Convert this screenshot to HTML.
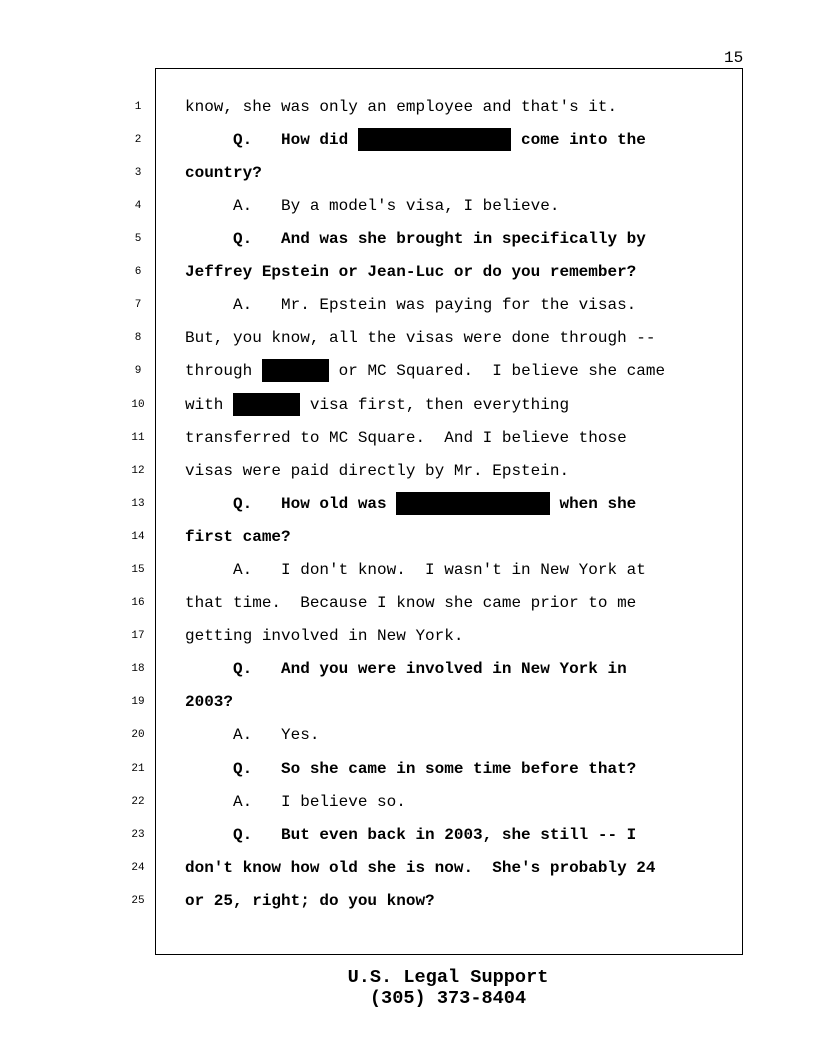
<!DOCTYPE html>
<html><head><meta charset="utf-8"><style>
body{margin:0;background:#fff;}
.page{position:relative;width:816px;height:1056px;background:#fff;font-family:"Liberation Mono",monospace;color:#000;}
.box{position:absolute;left:155px;top:68px;width:588px;height:887px;border:1px solid #000;box-sizing:border-box;}
.pn{position:absolute;left:724px;top:49px;font-size:16px;}
.ln{position:absolute;left:120px;width:36px;text-align:center;font-size:11px;line-height:20px;}
.t{position:absolute;left:185px;font-size:16px;line-height:20px;white-space:pre;}
.b{font-weight:bold;}
.r{background:#000;padding:3px 0 2px 0;}
.f{position:absolute;left:0;width:896px;text-align:center;font-size:18.6px;line-height:22px;font-weight:bold;}
</style></head><body><div class="page">
<div class="pn">15</div>
<div class="box"></div>
<div class="ln" style="top:97px">1</div><div class="t" style="top:97px">know, she was only an employee and that's it.</div>
<div class="ln" style="top:130px">2</div><div class="t b" style="top:130px">     Q.   How did <span class="r">                </span> come into the</div>
<div class="ln" style="top:163px">3</div><div class="t b" style="top:163px">country?</div>
<div class="ln" style="top:196px">4</div><div class="t" style="top:196px">     A.   By a model's visa, I believe.</div>
<div class="ln" style="top:229px">5</div><div class="t b" style="top:229px">     Q.   And was she brought in specifically by</div>
<div class="ln" style="top:262px">6</div><div class="t b" style="top:262px">Jeffrey Epstein or Jean-Luc or do you remember?</div>
<div class="ln" style="top:295px">7</div><div class="t" style="top:295px">     A.   Mr. Epstein was paying for the visas.</div>
<div class="ln" style="top:328px">8</div><div class="t" style="top:328px">But, you know, all the visas were done through --</div>
<div class="ln" style="top:361px">9</div><div class="t" style="top:361px">through <span class="r">       </span> or MC Squared.  I believe she came</div>
<div class="ln" style="top:395px">10</div><div class="t" style="top:395px">with <span class="r">       </span> visa first, then everything</div>
<div class="ln" style="top:428px">11</div><div class="t" style="top:428px">transferred to MC Square.  And I believe those</div>
<div class="ln" style="top:461px">12</div><div class="t" style="top:461px">visas were paid directly by Mr. Epstein.</div>
<div class="ln" style="top:494px">13</div><div class="t b" style="top:494px">     Q.   How old was <span class="r">                </span> when she</div>
<div class="ln" style="top:527px">14</div><div class="t b" style="top:527px">first came?</div>
<div class="ln" style="top:560px">15</div><div class="t" style="top:560px">     A.   I don't know.  I wasn't in New York at</div>
<div class="ln" style="top:593px">16</div><div class="t" style="top:593px">that time.  Because I know she came prior to me</div>
<div class="ln" style="top:626px">17</div><div class="t" style="top:626px">getting involved in New York.</div>
<div class="ln" style="top:659px">18</div><div class="t b" style="top:659px">     Q.   And you were involved in New York in</div>
<div class="ln" style="top:692px">19</div><div class="t b" style="top:692px">2003?</div>
<div class="ln" style="top:725px">20</div><div class="t" style="top:725px">     A.   Yes.</div>
<div class="ln" style="top:759px">21</div><div class="t b" style="top:759px">     Q.   So she came in some time before that?</div>
<div class="ln" style="top:792px">22</div><div class="t" style="top:792px">     A.   I believe so.</div>
<div class="ln" style="top:825px">23</div><div class="t b" style="top:825px">     Q.   But even back in 2003, she still -- I</div>
<div class="ln" style="top:858px">24</div><div class="t b" style="top:858px">don't know how old she is now.  She's probably 24</div>
<div class="ln" style="top:891px">25</div><div class="t b" style="top:891px">or 25, right; do you know?</div>
<div class="f" style="top:967px">U.S. Legal Support</div>
<div class="f" style="top:988px">(305) 373-8404</div>
</div></body></html>
